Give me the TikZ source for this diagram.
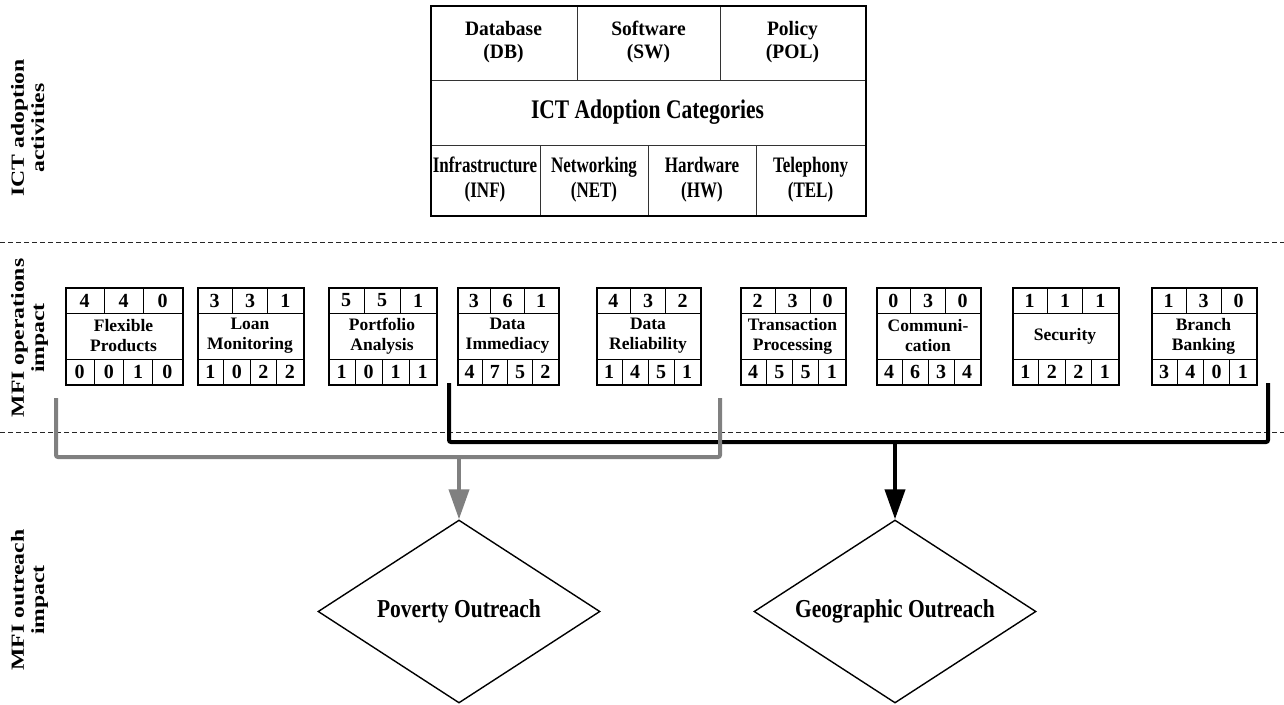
\documentclass[tikz,border=0pt]{standalone}
\usepackage{graphicx}
\usepackage{fontspec}
\setmainfont{Liberation Serif}
\usetikzlibrary{shapes.geometric,arrows.meta}
\newcommand\stk[3]{\scalebox{#1}[#2]{\begin{tabular}{@{}c@{}}#3\end{tabular}}}
\begin{document}
\begin{tikzpicture}[x=1pt,y=-1pt,
  outerbox/.style={draw=black,line width=2.3pt,inner sep=0pt,fill=none},
  cellline/.style={draw=black!80,line width=1pt},
  modline/.style={draw=black,line width=0.9pt},
  toptxt/.style={inner sep=0pt,font=\fontsize{19.5}{22}\selectfont\bfseries},
  bottxt/.style={inner sep=0pt,font=\fontsize{17}{19}\selectfont\bfseries},
  icttxt/.style={inner sep=0pt,font=\fontsize{21.5}{24}\selectfont\bfseries},
  numtxt/.style={inner sep=0pt,font=\fontsize{20}{22}\selectfont\bfseries},
  modtxt/.style={inner sep=0pt,align=center,font=\fontsize{17.5}{20}\selectfont\bfseries},
  sidetxt/.style={inner sep=0pt,rotate=90,font=\fontsize{18.5}{20}\selectfont\bfseries},
  divider/.style={draw=black!85,line width=0.8pt,dash pattern=on 5pt off 3pt},
  outcome/.style={diamond,aspect=1.54,draw=black,line width=1.4pt,minimum width=282pt,minimum height=183pt,inner sep=0pt,font=\fontsize{21.5}{24}\selectfont\bfseries},
  graybar/.style={draw=black!50,line width=4pt,rounded corners=2pt},
  blackbar/.style={draw=black,line width=4pt,rounded corners=2pt},
  grayarr/.style={draw=black!50,line width=4pt,-{Triangle[length=30pt,width=20pt]}},
  blackarr/.style={draw=black,line width=4pt,-{Triangle[length=30pt,width=20pt]}}
]
\useasboundingbox (0,0) rectangle (1284,704);

% section dividers
\coordinate (d1a) at (0,242); \coordinate (d1b) at (1284,242);
\coordinate (d2a) at (0,432); \coordinate (d2b) at (1284,432);
\draw[divider] (d1a) -- (d1b);
\draw[divider] (d2a) -- (d2b);

% side labels
\node[sidetxt] (s1) at (30,128) {\stk{1.28}{1}{ICT adoption\\activities}};
\node[sidetxt] (s2) at (30,338) {\stk{1.28}{1}{MFI operations\\impact}};
\node[sidetxt] (s3) at (30,600) {\stk{1.28}{1}{MFI outreach\\impact}};

% ICT adoption categories box
\draw[cellline] (430,80) -- (865,80);
\draw[cellline] (430,145) -- (865,145);
\draw[cellline] (577,5) -- (577,80);
\draw[cellline] (720,5) -- (720,80);
\draw[cellline] (540,145) -- (540,215);
\draw[cellline] (648,145) -- (648,215);
\draw[cellline] (756,145) -- (756,215);
\node[outerbox,anchor=north west,minimum width=435pt,minimum height=210pt] (cat) at (430,5) {};
\node[toptxt] (db) at (503.5,42) {\stk{1}{1.05}{Database\\(DB)}};
\node[toptxt] (sw) at (648.5,42) {\stk{1}{1.05}{Software\\(SW)}};
\node[toptxt] (pol) at (792.5,42) {\stk{1}{1.05}{Policy\\(POL)}};
\node[icttxt] (ict) at (647.5,112) {\scalebox{1}[1.25]{ICT Adoption Categories}};
\node[bottxt] (inf) at (485,180) {\stk{1}{1.3}{Infrastructure\\(INF)}};
\node[bottxt] (net) at (594,180) {\stk{1}{1.3}{Networking\\(NET)}};
\node[bottxt] (hw) at (702,180) {\stk{1}{1.3}{Hardware\\(HW)}};
\node[bottxt] (tel) at (810.5,180) {\stk{1}{1.3}{Telephony\\(TEL)}};

% MFI operation modules
\foreach \i/\l/\r/\a/\b/\c/\t/\d/\e/\f/\g in {
 1/65/182/4/4/0/{Flexible\\Products}/0/0/1/0,
 2/197/303/3/3/1/{Loan\\Monitoring}/1/0/2/2,
 3/328/436/5/5/1/{Portfolio\\Analysis}/1/0/1/1,
 4/457/558/3/6/1/{Data\\Immediacy}/4/7/5/2,
 5/596/700/4/3/2/{Data\\Reliability}/1/4/5/1,
 6/740/845/2/3/0/{Transaction\\Processing}/4/5/5/1,
 7/876/980/0/3/0/{Communi-\\cation}/4/6/3/4,
 8/1012/1118/1/1/1/{Security}/1/2/2/1,
 9/1151/1256/1/3/0/{Branch\\Banking}/3/4/0/1}
{
 \pgfmathsetmacro\w{\r-\l}
 \draw[modline] (\l,313) -- (\r,313);
 \draw[modline] (\l,359) -- (\r,359);
 \draw[modline] ({\l+\w/3},287) -- ({\l+\w/3},313);
 \draw[modline] ({\l+2*\w/3},287) -- ({\l+2*\w/3},313);
 \draw[modline] ({\l+\w/4},359) -- ({\l+\w/4},384);
 \draw[modline] ({\l+\w/2},359) -- ({\l+\w/2},384);
 \draw[modline] ({\l+3*\w/4},359) -- ({\l+3*\w/4},384);
 \node[outerbox,anchor=north west,minimum width=\w pt,minimum height=97pt] (m\i) at (\l,287) {};
 \node[numtxt] (m\i t1) at ({\l+\w/6},300.5) {\a};
 \node[numtxt] (m\i t2) at ({\l+\w/2},300.5) {\b};
 \node[numtxt] (m\i t3) at ({\l+5*\w/6},300.5) {\c};
 \node[modtxt] (m\i n) at ({\l+\w/2},336) {\t};
 \node[numtxt] (m\i b1) at ({\l+\w/8},372) {\d};
 \node[numtxt] (m\i b2) at ({\l+3*\w/8},372) {\e};
 \node[numtxt] (m\i b3) at ({\l+5*\w/8},372) {\f};
 \node[numtxt] (m\i b4) at ({\l+7*\w/8},372) {\g};
}

% outreach outcomes
\node[outcome] (pov) at (459,611.5) {\scalebox{1}[1.2]{Poverty Outreach}};
\node[outcome] (geo) at (895,611.5) {\scalebox{1}[1.2]{Geographic Outreach}};

% black bracket (geographic)
\coordinate (b1) at (449,383);
\coordinate (b3) at (1268,442);
\coordinate (b4) at (1268,383);
\coordinate (bm) at (895,442);
\draw[blackbar] (b1) |- (b3) -- (b4);
\draw[blackarr] (bm) -- (geo.north);

% gray bracket (poverty)
\coordinate (g1) at (56,398);
\coordinate (g3) at (720,457);
\coordinate (g4) at (720,398);
\coordinate (gm) at (459,457);
\draw[graybar] (g1) |- (g3) -- (g4);
\draw[grayarr] (gm) -- (pov.north);
\end{tikzpicture}
\end{document}
